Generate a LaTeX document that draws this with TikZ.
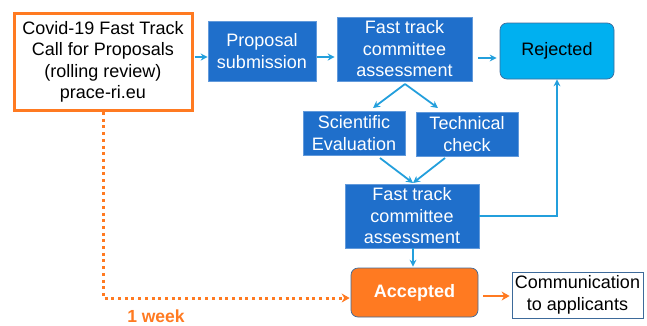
\documentclass[tikz,border=0pt]{standalone}
\usepackage{fontspec}
\setmainfont{Liberation Sans}
\usetikzlibrary{arrows.meta,calc}
\definecolor{boxblue}{HTML}{1F6FCB}
\definecolor{arrblue}{HTML}{239FDC}
\definecolor{rejblue}{HTML}{00B0F0}
\definecolor{orng}{HTML}{FF7A21}
\definecolor{edgeblue}{HTML}{3D6A9A}
\tikzset{
  txt/.style={font=\fontsize{18}{21.5}\selectfont},
  bluebox/.style={txt, draw=boxblue!70!white, line width=0.6pt, fill=boxblue, text=white, align=center, inner sep=0pt},
  arr/.style={draw=arrblue, line width=1.8pt, -{Stealth[length=7pt,width=7pt]}},
  oarr/.style={draw=orng, line width=2.8pt, -{Stealth[length=8pt,width=9pt]}},
}
\begin{document}
\begin{tikzpicture}[x=1pt,y=-1pt]
\useasboundingbox (0,0) rectangle (647,325);
\node[txt, draw=orng, line width=3pt, fill=white, minimum width=178pt, minimum height=97pt, align=center, inner sep=0pt] (covid) at (103,62) {Covid-19 Fast Track\\Call for Proposals\\(rolling review)\\prace-ri.eu};
\node[bluebox, minimum width=108pt, minimum height=60pt] (prop) at (262,51) {Proposal\\submission};
\node[bluebox, minimum width=135pt, minimum height=64pt] (ft1) at (404.5,49) {Fast track\\committee\\assessment};
\node[txt, draw=edgeblue, line width=0.7pt, fill=rejblue, rounded corners=7pt, minimum width=114pt, minimum height=56pt, inner sep=0pt] (rej) at (557,51) {Rejected};
\node[bluebox, minimum width=102pt, minimum height=44pt] (sci) at (354,133) {Scientific\\Evaluation};
\node[bluebox, minimum width=102pt, minimum height=44pt] (tech) at (467,134) {Technical\\check};
\node[bluebox, minimum width=134pt, minimum height=64pt] (ft2) at (412,216) {Fast track\\committee\\assessment};
\node[draw=edgeblue, line width=0.7pt, fill=orng, rounded corners=7pt, minimum width=127pt, minimum height=49pt, inner sep=0pt, text=white, font=\fontsize{18}{21.5}\selectfont\bfseries] (acc) at (414.5,292.5) {Accepted};
\node[txt, draw=edgeblue, line width=0.8pt, fill=white, minimum width=131pt, minimum height=46pt, inner sep=0pt, align=center] (comm) at (577.5,295) {Communication\\to applicants};
\node[text=orng, font=\fontsize{17.5}{20}\selectfont\bfseries, inner sep=0pt] (wk) at (156,316.5) {1 week};
% coordinates
\coordinate (pa) at ($(prop.west)+(0,6)$);
\coordinate (fa) at ($(ft1.west)+(0,8)$);
\coordinate (ra) at ($(rej.west)+(0,7)$);
\coordinate (s1) at (373,108);
\coordinate (t1) at (438,108);
\coordinate (top2) at (413,183);
\coordinate (sb) at (380,158);
\coordinate (tb) at (445,158);
\coordinate (ft1b) at (405,84);
\coordinate (accl) at ($(acc.west)+(0,5.5)$);
\coordinate (dotc) at (covid.south |- accl);
% connectors
\draw[arr, shorten <=1pt] (covid.east |- pa) -- (pa);
\draw[arr, shorten <=1pt, shorten >=2pt] (prop.east |- fa) -- (fa);
\draw[arr, shorten <=6pt, shorten >=3pt] (ft1.east |- ra) -- (ra);
\draw[arr] (ft1b) -- (s1);
\draw[arr] (ft1b) -- (t1);
\draw[arr] (sb) -- (top2);
\draw[arr] (tb) -- (top2);
\draw[arr] (ft2.east) -| (rej.south);
\draw[arr, shorten >=1pt] (ft2.south -| top2) -- (acc.north -| top2);
\draw[oarr, shorten <=5pt, shorten >=2pt] (acc.east |- 0,296) -- (comm.west |- 0,296);
\draw[draw=orng, line width=3pt, dash pattern=on 3pt off 3.7pt, -{Stealth[length=8pt,width=9pt]}, shorten >=1pt] (covid.south) -- (dotc) -- (accl);
\end{tikzpicture}
\end{document}
